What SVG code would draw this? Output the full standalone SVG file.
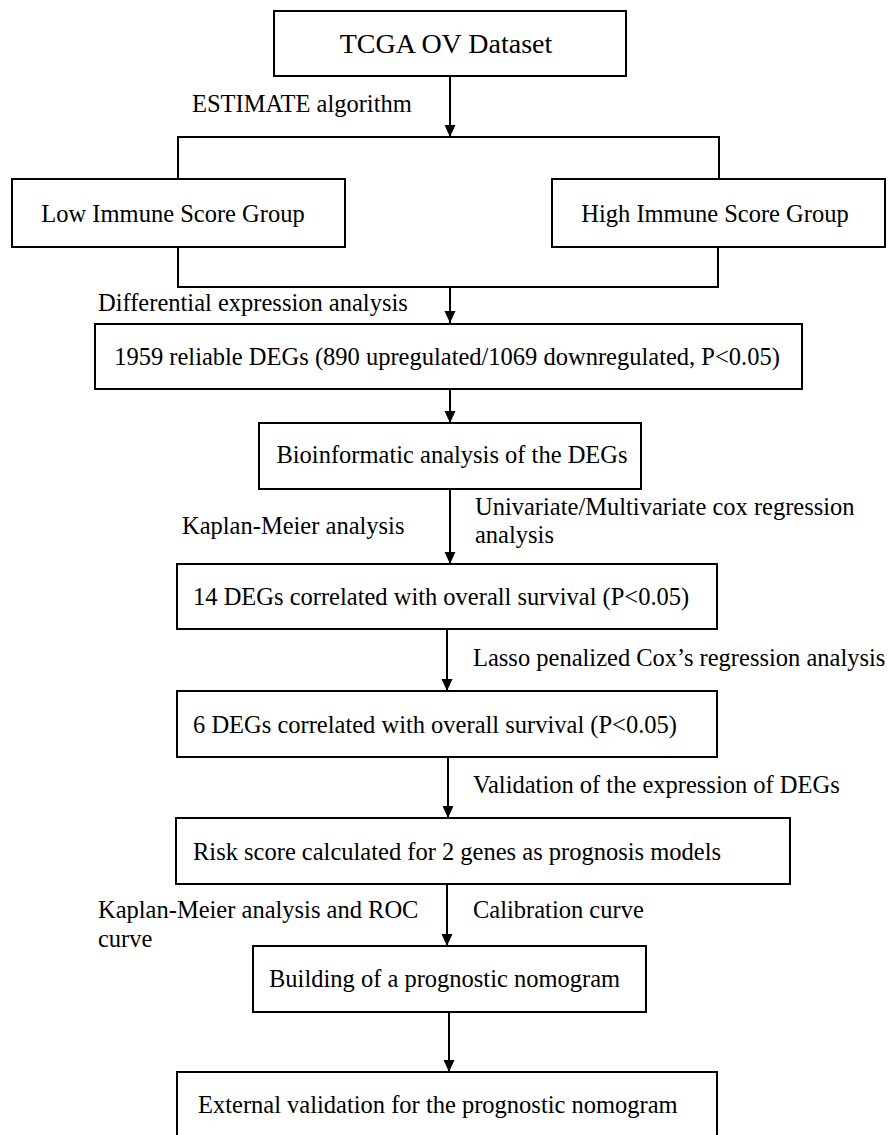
<svg xmlns="http://www.w3.org/2000/svg" width="889" height="1135" viewBox="0 0 889 1135">
<style>
.box{fill:#fff;stroke:#000;stroke-width:2}
.ln{fill:none;stroke:#000;stroke-width:2}
text{font-family:"Liberation Serif","Times New Roman",serif;font-size:24.5px;fill:#000}
.c{text-anchor:middle}
</style>
<defs>
<marker id="ah" markerWidth="12" markerHeight="12" viewBox="0 0 12 12" refX="12" refY="6" orient="auto" markerUnits="userSpaceOnUse">
<path d="M0,0.5 L12,6 L0,11.5 Z" fill="#000"/>
</marker>
</defs>
<rect width="889" height="1135" fill="#fff"/>
<g id="connectors">
<line class="ln" x1="450" y1="76" x2="450" y2="137" marker-end="url(#ah)"/>
<polyline class="ln" points="178,179 178,137 719,137 719,179"/>
<polyline class="ln" points="178,247 178,287 718,287 718,247"/>
<line class="ln" x1="450" y1="287" x2="450" y2="323" marker-end="url(#ah)"/>
<line class="ln" x1="450" y1="389" x2="450" y2="423" marker-end="url(#ah)"/>
<line class="ln" x1="450" y1="489" x2="450" y2="564" marker-end="url(#ah)"/>
<line class="ln" x1="447" y1="629" x2="447" y2="691" marker-end="url(#ah)"/>
<line class="ln" x1="448" y1="757" x2="448" y2="818" marker-end="url(#ah)"/>
<line class="ln" x1="447" y1="884" x2="447" y2="946" marker-end="url(#ah)"/>
<line class="ln" x1="449" y1="1012" x2="449" y2="1072" marker-end="url(#ah)"/>
<text x="192" y="112">ESTIMATE algorithm</text>
<text x="98" y="311">Differential expression analysis</text>
<text x="182" y="534">Kaplan-Meier analysis</text>
<text x="475" y="515">Univariate/Multivariate cox regression</text>
<text x="475" y="543">analysis</text>
<text x="473" y="666">Lasso penalized Cox’s regression analysis</text>
<text x="473" y="793">Validation of the expression of DEGs</text>
<text x="98" y="918">Kaplan-Meier analysis and ROC</text>
<text x="98" y="947">curve</text>
<text x="473" y="918">Calibration curve</text>
</g>
<g id="n_tcga">
<rect class="box" x="274" y="11" width="352" height="65"/>
<text class="c" x="446" y="53" style="font-size:28px">TCGA OV Dataset</text>
</g>
<g id="n_low">
<rect class="box" x="12" y="179" width="333" height="68"/>
<text class="c" x="173" y="222">Low Immune Score Group</text>
</g>
<g id="n_high">
<rect class="box" x="552" y="179" width="333" height="68"/>
<text class="c" x="715" y="222">High Immune Score Group</text>
</g>
<g id="n_degs">
<rect class="box" x="95" y="324" width="707" height="65"/>
<text class="c" x="447" y="365">1959 reliable DEGs (890 upregulated/1069 downregulated, P&lt;0.05)</text>
</g>
<g id="n_bio">
<rect class="box" x="259" y="423" width="382" height="66"/>
<text class="c" x="452" y="463">Bioinformatic analysis of the DEGs</text>
</g>
<g id="n_14">
<rect class="box" x="177" y="564" width="540" height="65"/>
<text x="193" y="605">14 DEGs correlated with overall survival (P&lt;0.05)</text>
</g>
<g id="n_6">
<rect class="box" x="177" y="691" width="540" height="66"/>
<text x="193" y="733">6 DEGs correlated with overall survival (P&lt;0.05)</text>
</g>
<g id="n_risk">
<rect class="box" x="176" y="818" width="614" height="66"/>
<text x="193" y="860">Risk score calculated for 2 genes as prognosis models</text>
</g>
<g id="n_nomo">
<rect class="box" x="253" y="946" width="393" height="66"/>
<text x="269" y="987">Building of a prognostic nomogram</text>
</g>
<g id="n_ext">
<rect class="box" x="177" y="1072" width="540" height="90"/>
<text x="198" y="1113">External validation for the prognostic nomogram</text>
</g>
</svg>
